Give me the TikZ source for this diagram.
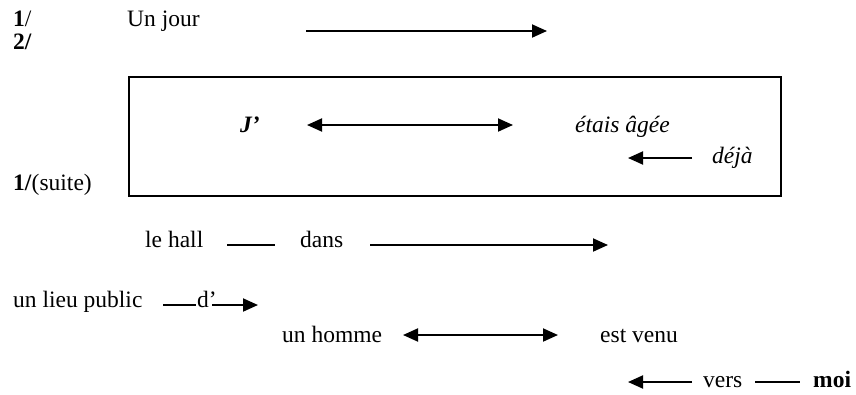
\documentclass[tikz,border=0pt]{standalone}
\usepackage{fontspec}
\setmainfont{Liberation Serif}
\usetikzlibrary{arrows.meta}
\begin{document}
\begin{tikzpicture}[x=1pt,y=-1pt,
  txt/.style={anchor=base west,inner sep=0pt,text depth=0pt,font=\fontsize{23.5}{28}\selectfont},
  tip/.style={Triangle[length=15pt,width=13pt]},
  arr/.style={line width=1.9pt,-{Triangle[length=15pt,width=13pt]}},
  darr/.style={line width=1.9pt,{Triangle[length=15pt,width=13pt]}-{Triangle[length=15pt,width=13pt]}},
  bar/.style={line width=1.9pt},
  frame/.style={draw,line width=2.4pt}]
\useasboundingbox (0,0) rectangle (856,394);

% first line
\node[txt] (n1) at (13,26) {\textbf{1}/};
\node[txt] (unjour) at (127,26) {Un jour};
\coordinate (a1s) at (306,31);
\coordinate (a1e) at (547,31);
\draw[arr] (a1s) -- (a1e);
\node[txt] (n2) at (13,49) {\textbf{2/}};

% framed clause
\node[frame,minimum width=652pt,minimum height=119pt,anchor=north west,inner sep=0pt] (box) at (128,76) {};
\node[txt] (je) at (240,132) {\textbf{\textit{J’}}};
\node[txt] (etais) at (575,132) {\textit{étais âgée}};
\coordinate (b1s) at (307,125);
\coordinate (b1e) at (513,125);
\draw[darr] (b1s) -- (b1e);
\node[txt] (deja) at (712,163) {\textit{déjà}};
\coordinate (b2s) at (692,158);
\coordinate (b2e) at (628,158);
\draw[arr] (b2s) -- (b2e);
\node[txt] (suite) at (13,190) {\textbf{1/}(suite)};

% le hall -- dans
\node[txt] (hall) at (145,247) {le hall};
\node[txt] (dans) at (300,247) {dans};
\coordinate (c1s) at (227,245);
\coordinate (c1e) at (275,245);
\draw[bar] (c1s) -- (c1e);
\coordinate (c2s) at (370,245);
\coordinate (c2e) at (608,245);
\draw[arr] (c2s) -- (c2e);

% un lieu public -- d'
\node[txt] (lieu) at (13,307) {un lieu public};
\node[txt] (de) at (197,307) {d’};
\coordinate (d1s) at (163,305);
\coordinate (d1e) at (196,305);
\draw[bar] (d1s) -- (d1e);
\coordinate (d2s) at (212,305);
\coordinate (d2e) at (258,305);
\draw[arr] (d2s) -- (d2e);

% un homme <-> est venu
\node[txt] (homme) at (282,342) {un homme};
\node[txt] (venu) at (600,342) {est venu};
\coordinate (e1s) at (403,335);
\coordinate (e1e) at (558,335);
\draw[darr] (e1s) -- (e1e);

% vers -- moi
\node[txt] (vers) at (703,387) {vers};
\node[txt] (moi) at (813,387) {\textbf{moi}};
\coordinate (f1s) at (692,382);
\coordinate (f1e) at (628,382);
\draw[arr] (f1s) -- (f1e);
\coordinate (f2s) at (755,382);
\coordinate (f2e) at (800,382);
\draw[bar] (f2s) -- (f2e);
\end{tikzpicture}
\end{document}
